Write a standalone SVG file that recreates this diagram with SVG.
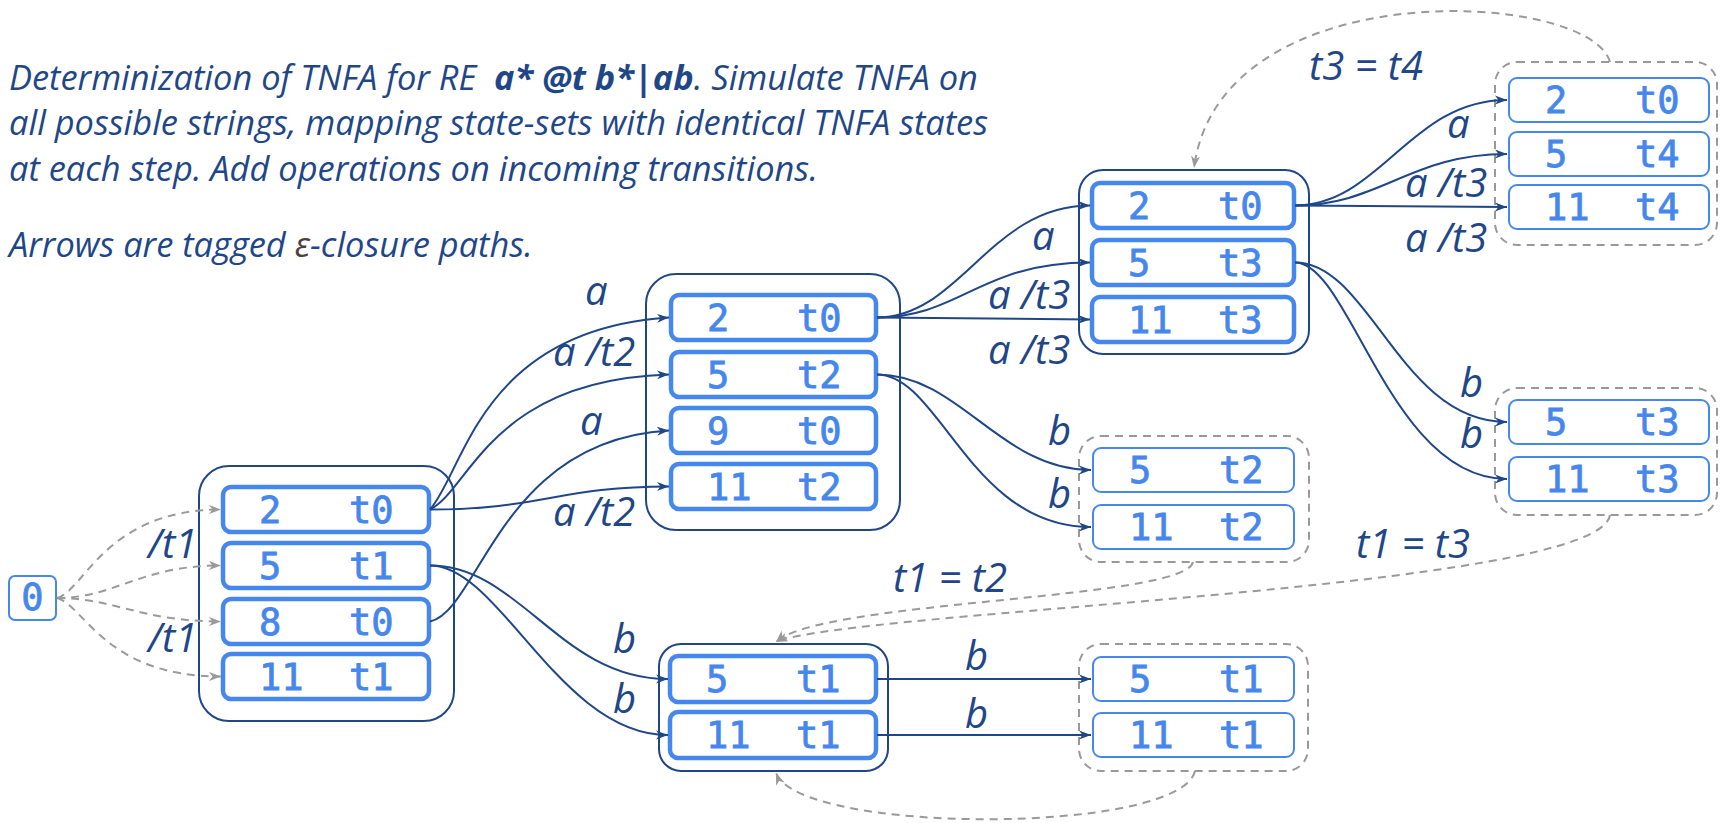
<svg xmlns="http://www.w3.org/2000/svg" width="1723" height="823" viewBox="0 0 1723 823">
  <style>
    .hdr { font-family: "Open Sans", "Liberation Sans", sans-serif; font-style: italic; font-size: 34.4px; fill: #1f4788; }
    .lbl { font-family: "Open Sans", "Liberation Sans", sans-serif; font-style: italic; font-size: 40px; fill: #1f4788; }
    .st  { font-family: "DejaVu Sans Mono", "Liberation Mono", monospace; font-size: 37px; fill: #4687ee; stroke: #4687ee; stroke-width: 0.8px; }
    .row { fill: #fff; stroke: #4687ee; stroke-width: 4.5; }
    .row-thin { fill: #fff; stroke: #4687ee; stroke-width: 2; }
    .grp { fill: #fff; stroke: #1f4788; stroke-width: 2; }
    .grp-d { fill: #fff; stroke: #999; stroke-width: 2; stroke-dasharray: 8 6; }
    .e { fill: none; stroke: #1f4788; stroke-width: 2; marker-end: url(#ah); }
    .d { fill: none; stroke: #9a9a9a; stroke-width: 2; stroke-dasharray: 8 6; marker-end: url(#ahg); }
  </style>
  <defs>
    <marker id="ah" viewBox="0 0 12 10" refX="12" refY="5" markerWidth="12" markerHeight="10" markerUnits="userSpaceOnUse" orient="auto">
      <path d="M0,0.5 L12,5 L0,9.5 L3.5,5 z" fill="#1f4788"/>
    </marker>
    <marker id="ahg" viewBox="0 0 12 10" refX="12" refY="5" markerWidth="12" markerHeight="10" markerUnits="userSpaceOnUse" orient="auto">
      <path d="M0,0.5 L12,5 L0,9.5 L3.5,5 z" fill="#9a9a9a"/>
    </marker>
  </defs>

  <!-- description -->
  <g id="caption">
    <text class="hdr" x="9" y="90" xml:space="preserve">Determinization of TNFA for RE  <tspan font-weight="bold">a* @t b*|ab</tspan>. Simulate TNFA on</text>
    <text class="hdr" x="9" y="135">all possible strings, mapping state-sets with identical TNFA states</text>
    <text class="hdr" x="9" y="181">at each step. Add operations on incoming transitions.</text>
    <text class="hdr" x="9" y="257">Arrows are tagged <tspan fill="#4e4238">ε</tspan>-closure paths.</text>
  </g>

  <!-- initial state -->
  <g id="n0">
    <rect class="row-thin" x="9" y="576" width="47" height="44" rx="6"/>
    <text class="st" x="32.5" y="610" font-size="32" text-anchor="middle">0</text>
  </g>

  <!-- state 1 -->
  <g id="g1">
    <rect class="grp" x="199" y="466" width="255" height="255" rx="30"/>
    <rect class="row" x="223" y="487" width="206" height="45" rx="8"/>
    <rect class="row" x="223" y="543" width="206" height="45" rx="8"/>
    <rect class="row" x="223" y="599" width="206" height="45" rx="8"/>
    <rect class="row" x="223" y="654" width="206" height="45" rx="8"/>
    <text class="st" x="259" y="523">2</text><text class="st" x="349" y="523">t0</text>
    <text class="st" x="259" y="579">5</text><text class="st" x="349" y="579">t1</text>
    <text class="st" x="259" y="635">8</text><text class="st" x="349" y="635">t0</text>
    <text class="st" x="259" y="690">11</text><text class="st" x="349" y="690">t1</text>
  </g>

  <!-- state 2 -->
  <g id="g2">
    <rect class="grp" x="646" y="274" width="254" height="256" rx="30"/>
    <rect class="row" x="671" y="295" width="205" height="45" rx="8"/>
    <rect class="row" x="671" y="352" width="205" height="45" rx="8"/>
    <rect class="row" x="671" y="408" width="205" height="45" rx="8"/>
    <rect class="row" x="671" y="464" width="205" height="45" rx="8"/>
    <text class="st" x="707" y="331">2</text><text class="st" x="797" y="331">t0</text>
    <text class="st" x="707" y="388">5</text><text class="st" x="797" y="388">t2</text>
    <text class="st" x="707" y="444">9</text><text class="st" x="797" y="444">t0</text>
    <text class="st" x="707" y="500">11</text><text class="st" x="797" y="500">t2</text>
  </g>

  <!-- state 3 -->
  <g id="g3">
    <rect class="grp" x="1079" y="170" width="230" height="184" rx="24"/>
    <rect class="row" x="1092" y="183" width="202" height="45" rx="8"/>
    <rect class="row" x="1092" y="240" width="202" height="45" rx="8"/>
    <rect class="row" x="1092" y="297" width="202" height="45" rx="8"/>
    <text class="st" x="1128" y="219">2</text><text class="st" x="1218" y="219">t0</text>
    <text class="st" x="1128" y="276">5</text><text class="st" x="1218" y="276">t3</text>
    <text class="st" x="1128" y="333">11</text><text class="st" x="1218" y="333">t3</text>
  </g>

  <!-- mapped to state 3 -->
  <g id="g4">
    <rect class="grp-d" x="1495" y="62" width="222" height="183" rx="22"/>
    <rect class="row-thin" x="1509" y="78" width="200" height="44" rx="8"/>
    <rect class="row-thin" x="1509" y="132" width="200" height="44" rx="8"/>
    <rect class="row-thin" x="1509" y="185" width="200" height="44" rx="8"/>
    <text class="st" x="1545" y="113">2</text><text class="st" x="1635" y="113">t0</text>
    <text class="st" x="1545" y="167">5</text><text class="st" x="1635" y="167">t4</text>
    <text class="st" x="1545" y="220">11</text><text class="st" x="1635" y="220">t4</text>
  </g>

  <!-- mapped to state 7 (from state 3) -->
  <g id="g5">
    <rect class="grp-d" x="1495" y="388" width="222" height="127" rx="22"/>
    <rect class="row-thin" x="1509" y="400" width="200" height="44" rx="8"/>
    <rect class="row-thin" x="1509" y="457" width="200" height="44" rx="8"/>
    <text class="st" x="1545" y="435">5</text><text class="st" x="1635" y="435">t3</text>
    <text class="st" x="1545" y="492">11</text><text class="st" x="1635" y="492">t3</text>
  </g>

  <!-- mapped to state 7 (from state 2) -->
  <g id="g6">
    <rect class="grp-d" x="1079" y="436" width="230" height="126" rx="22"/>
    <rect class="row-thin" x="1093" y="448" width="201" height="44" rx="8"/>
    <rect class="row-thin" x="1093" y="505" width="201" height="44" rx="8"/>
    <text class="st" x="1129" y="483">5</text><text class="st" x="1219" y="483">t2</text>
    <text class="st" x="1129" y="540">11</text><text class="st" x="1219" y="540">t2</text>
  </g>

  <!-- state 7 -->
  <g id="g7">
    <rect class="grp" x="659" y="644" width="229" height="127" rx="22"/>
    <rect class="row" x="670" y="656" width="206" height="46" rx="8"/>
    <rect class="row" x="670" y="712" width="206" height="46" rx="8"/>
    <text class="st" x="706" y="692">5</text><text class="st" x="796" y="692">t1</text>
    <text class="st" x="706" y="748">11</text><text class="st" x="796" y="748">t1</text>
  </g>

  <!-- mapped to state 7 (loop) -->
  <g id="g8">
    <rect class="grp-d" x="1079" y="644" width="229" height="127" rx="22"/>
    <rect class="row-thin" x="1093" y="657" width="201" height="44" rx="8"/>
    <rect class="row-thin" x="1093" y="713" width="201" height="44" rx="8"/>
    <text class="st" x="1129" y="692">5</text><text class="st" x="1219" y="692">t1</text>
    <text class="st" x="1129" y="748">11</text><text class="st" x="1219" y="748">t1</text>
  </g>

  <g id="edges">
    <!-- epsilon closure of the initial state -->
    <path class="d" d="M57,598 C85,590 105,510 221,509.5"/>
    <path class="d" d="M57,598 C115,598 140,565.5 221,565.5"/>
    <path class="d" d="M57,598 C115,598 140,621.5 221,621.5"/>
    <path class="d" d="M57,598 C85,606 105,676.5 221,676.5"/>

    <!-- state 1 on a -->
    <path class="e" d="M430,509.5 C465,470 480,330 669,317.5"/>
    <path class="e" d="M430,509.5 C470,490 490,380 669,374.5"/>
    <path class="e" d="M430,509.5 C540,509.5 560,486.5 669,486.5"/>
    <path class="e" d="M430,621.5 C480,610 500,440 669,430.5"/>
    <!-- state 1 on b -->
    <path class="e" d="M430,565.5 C520,565.5 560,679 668,679"/>
    <path class="e" d="M430,565.5 C500,565.5 560,735 668,735"/>

    <!-- state 2 on a -->
    <path class="e" d="M877,317.5 C960,317.5 990,205.5 1090,205.5"/>
    <path class="e" d="M877,317.5 C960,317.5 980,262.5 1090,262.5"/>
    <path class="e" d="M877,317.5 L1090,319.5"/>
    <!-- state 2 on b -->
    <path class="e" d="M877,374.5 C960,374.5 1000,470 1091,470"/>
    <path class="e" d="M877,374.5 C940,374.5 970,527 1091,527"/>

    <!-- state 3 on a -->
    <path class="e" d="M1295,205.5 C1380,205.5 1410,100 1507,100"/>
    <path class="e" d="M1295,205.5 C1380,205.5 1410,154 1507,154"/>
    <path class="e" d="M1295,205.5 L1507,207"/>
    <!-- state 3 on b -->
    <path class="e" d="M1295,262.5 C1370,262.5 1400,422 1507,422"/>
    <path class="e" d="M1295,262.5 C1350,262.5 1390,479 1507,479"/>

    <!-- state 7 on b -->
    <path class="e" d="M877,679 L1091,679"/>
    <path class="e" d="M877,735 L1091,735"/>

    <!-- mappings -->
    <path class="d" d="M1610,62 C1590,-10 1220,-30 1194,168"/>
    <path class="d" d="M1610,515 C1600,590 850,610 776,642"/>
    <path class="d" d="M1193,562 C1185,600 820,600 776,642"/>
    <path class="d" d="M1195,771 C1180,835 800,835 776,773"/>
  </g>

  <g id="labels">
    <text class="lbl" x="148" y="558">/t1</text>
    <text class="lbl" x="148" y="652">/t1</text>

    <text class="lbl" x="585" y="305">a</text>
    <text class="lbl" x="553" y="366">a /t2</text>
    <text class="lbl" x="580" y="435">a</text>
    <text class="lbl" x="553" y="526">a /t2</text>
    <text class="lbl" x="613" y="653">b</text>
    <text class="lbl" x="613" y="713">b</text>

    <text class="lbl" x="1032" y="250">a</text>
    <text class="lbl" x="988" y="309">a /t3</text>
    <text class="lbl" x="988" y="364">a /t3</text>
    <text class="lbl" x="1048" y="445">b</text>
    <text class="lbl" x="1048" y="508">b</text>

    <text class="lbl" x="1447" y="138">a</text>
    <text class="lbl" x="1405" y="197">a /t3</text>
    <text class="lbl" x="1405" y="252">a /t3</text>
    <text class="lbl" x="1460" y="397">b</text>
    <text class="lbl" x="1460" y="448">b</text>

    <text class="lbl" x="965" y="670">b</text>
    <text class="lbl" x="965" y="728">b</text>

    <text class="lbl" x="1309" y="80">t3 = t4</text>
    <text class="lbl" x="1356" y="558">t1 = t3</text>
    <text class="lbl" x="893" y="592">t1 = t2</text>
  </g>
</svg>
